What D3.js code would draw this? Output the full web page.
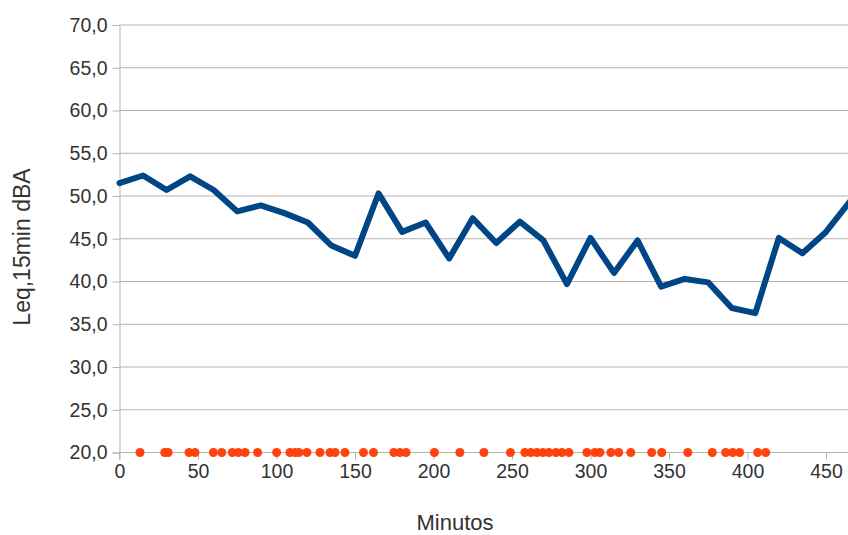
<!DOCTYPE html>
<html><head><meta charset="utf-8">
<script src="https://cdn.jsdelivr.net/npm/d3@7"></script>
<style>
html,body{margin:0;padding:0;background:#fff;}
svg{display:block;}
text{font-family:"Liberation Sans",Arial,sans-serif;fill:#333;}
</style></head>
<body>
<svg id="chart" width="848" height="535"></svg>
<script>
// Leq 15-min values (dBA) every 15 minutes
const minutes = [0,15,30,45,60,75,90,105,120,135,150,165,180,195,210,225,240,255,270,285,300,315,330,345,360,375,390,405,420,435,450,465];
const leq = [51.5,52.4,50.7,52.3,50.7,48.2,48.9,48.0,46.9,44.2,43.0,50.3,45.8,46.9,42.7,47.4,44.5,47.0,44.8,39.7,45.1,41.0,44.8,39.4,40.3,39.9,36.9,36.3,45.1,43.3,45.8,49.3];
// event times (minutes), drawn at 20 dBA
const eventMinutes = [13.1,28.8,31.0,44.3,48.1,59.8,65.1,71.9,75.7,80.0,88.0,100.1,108.6,111.8,114.3,119.4,127.7,134.1,137.3,143.6,155.4,161.8,174.8,178.6,182.5,200.6,216.8,232.1,249.0,258.2,262.0,265.9,269.7,273.5,278.0,281.8,286.3,297.7,302.8,306.0,313.0,318.0,325.7,339.0,345.4,362.0,377.6,386.1,390.6,395.0,406.5,411.6];
const eventLevel = 20;
const xTicks = [0,50,100,150,200,250,300,350,400,450];
const yTicks = [20,25,30,35,40,45,50,55,60,65,70];
const xTitle = "Minutos";
const yTitle = "Leq,15min dBA";

const svg = d3.select("#chart");
const mLeft = 119.5, mTop = 25, mBottom = 452.5, mRight = 849.5;
const x = d3.scaleLinear().domain([0,465]).range([mLeft,mRight]);
const y = d3.scaleLinear().domain([20,70]).range([mBottom,mTop]);
const fmt = d => d.toFixed(1).replace(".", ",");

svg.append("defs").append("clipPath").attr("id","clip")
  .append("rect").attr("x",mLeft-10).attr("y",0).attr("width",848-mLeft+10).attr("height",535);

// gridlines
svg.append("g").selectAll("line").data(yTicks.filter(t=>t>20)).join("line")
  .attr("x1",mLeft).attr("x2",848).attr("y1",d=>y(d)).attr("y2",d=>y(d))
  .attr("stroke","#b3b3b3").attr("stroke-width",1);

// y axis
const yAxis = svg.append("g").attr("transform",`translate(${mLeft},0)`)
  .call(d3.axisLeft(y).tickValues(yTicks).tickFormat(fmt).tickSize(7).tickPadding(5));
yAxis.select(".domain").attr("stroke","#b3b3b3");
yAxis.selectAll(".tick line").attr("stroke","#b3b3b3");
yAxis.selectAll("text").style("font-size","19.5px").attr("fill","#333");

// x axis
const xAxis = svg.append("g").attr("transform",`translate(0,${mBottom})`)
  .call(d3.axisBottom(x).tickValues(xTicks).tickSize(7).tickPadding(5));
xAxis.select(".domain").attr("stroke","#b3b3b3").attr("d",`M${mLeft},7V0H848`);
xAxis.selectAll(".tick line").attr("stroke","#b3b3b3");
xAxis.selectAll("text").style("font-size","19.5px").attr("fill","#333");

// line
const g = svg.append("g").attr("clip-path","url(#clip)");
g.append("path").datum(minutes.map((m,i)=>[m,leq[i]]))
  .attr("fill","none").attr("stroke","#004586").attr("stroke-width",6)
  .attr("stroke-linejoin","round").attr("stroke-linecap","round")
  .attr("d",d3.line().x(d=>x(d[0])).y(d=>y(d[1])));

// event dots
g.append("g").selectAll("circle").data(eventMinutes).join("circle")
  .attr("cx",d=>x(d)).attr("cy",y(eventLevel)).attr("r",4.5).attr("fill","#ff420e");

// titles
svg.append("text").attr("x",455).attr("y",530).attr("text-anchor","middle")
  .style("font-size","22px").text(xTitle);
svg.append("text").attr("transform",`translate(30,${247}) rotate(-90)`).attr("text-anchor","middle")
  .style("font-size","23px").text(yTitle);
</script>
</body></html>
